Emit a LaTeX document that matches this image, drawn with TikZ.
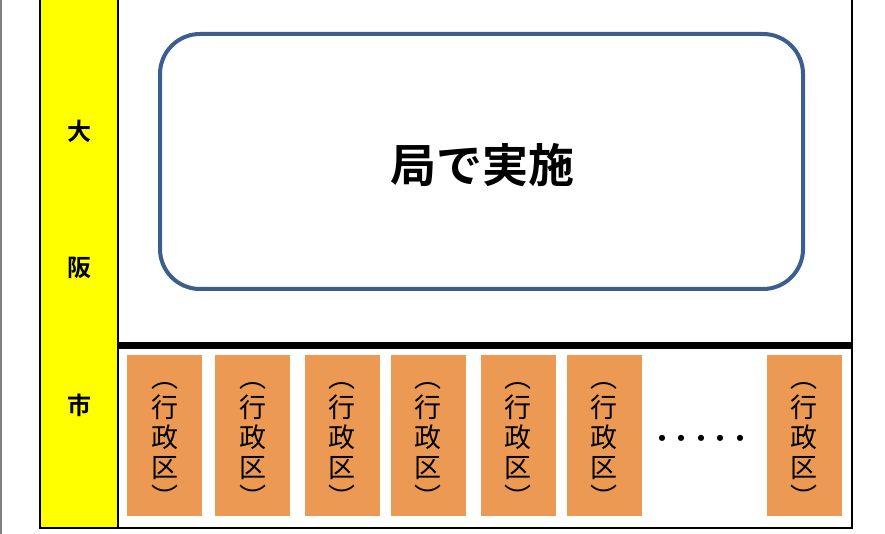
\documentclass[tikz,border=0pt]{standalone}
\usepackage{fontspec}
\usepackage{xcolor}
\usetikzlibrary{positioning}
\newfontfamily\jpfont{Noto Sans CJK JP}[BoldFont={Noto Sans CJK JP Bold}]
\newcommand{\dotgap}{\kern-4.5pt}
\definecolor{cityyellow}{RGB}{255,255,0}
\definecolor{wardorange}{RGB}{236,153,84}
\definecolor{bureaublue}{RGB}{59,94,140}
\tikzstyle{ward} = [fill=wardorange, minimum width=75pt, minimum height=161pt, inner sep=0pt]
\tikzstyle{wardtext} = [align=center, inner sep=0pt, yshift=-9pt, font=\jpfont\fontsize{27}{30}\selectfont]
\tikzstyle{citylabel} = [font=\jpfont\bfseries\fontsize{24}{28}\selectfont]

\begin{document}
\begin{tikzpicture}[x=1pt, y=-1pt]
			\useasboundingbox (0,0) rectangle (885,534);
			\draw[gray, line width=1.2pt] (1,0) -- (1,534);
			% frame and city column
			\draw[black, line width=2pt] (40,0) -- (40,528) -- (852,528) -- (852,0);
			\draw[black, line width=2pt, fill=cityyellow] (40,-2) rectangle (118,528);
			\node[citylabel] (dai) at (79,131) {大};
			\node[citylabel] (han) at (79,268) {阪};
			\node[citylabel] (shi) at (79,405) {市};
			% bureau part
			\node[draw=bureaublue, line width=4pt, rounded corners=40pt, minimum width=643pt,
			  minimum height=255pt] (bureau) at (481.5,161.5) {};
			\node[font=\jpfont\bfseries\fontsize{46}{50}\selectfont] (task) at (482,165) {局で実施};
			\draw[black, line width=6.5pt] (118,345.5) -- (852,345.5);
			% wards
			\foreach \x/\name in {164.5/w1, 252.5/w2, 342/w3, 428/w4, 518/w5, 604/w6, 804/wn}
				\node[ward, label={[wardtext]center:︵\\行\\政\\区\\︶}] (\name) at (\x,435.5) {};
			\node[font=\jpfont\bfseries\fontsize{24}{24}\selectfont, inner sep=0pt]
			  (dots) at (701,441) {・\dotgap・\dotgap・\dotgap・\dotgap・};
		\end{tikzpicture}
\end{document}
